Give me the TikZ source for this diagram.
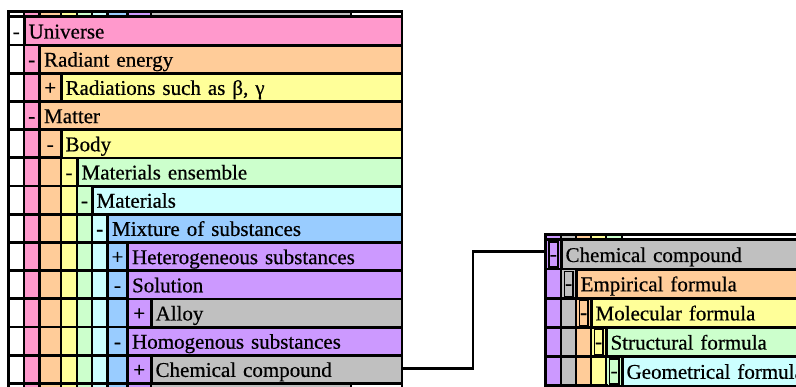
\documentclass[tikz,border=0pt]{standalone}
\usepackage{fontspec}
\setmainfont{Liberation Serif}[FakeBold=0.5]
\definecolor{tpink}{HTML}{FF99CC}
\definecolor{torange}{HTML}{FFCC99}
\definecolor{tyellow}{HTML}{FFFF99}
\definecolor{tgreen}{HTML}{CCFFCC}
\definecolor{tcyan}{HTML}{CCFFFF}
\definecolor{tblue}{HTML}{99CCFF}
\definecolor{tpurple}{HTML}{CC99FF}
\definecolor{tgray}{HTML}{C0C0C0}
% column colours of the left outline
\colorlet{lc0}{white}\colorlet{lc1}{tpink}\colorlet{lc2}{torange}
\colorlet{lc3}{tyellow}\colorlet{lc4}{tgreen}\colorlet{lc5}{tcyan}
\colorlet{lc6}{tblue}\colorlet{lc7}{tpurple}\colorlet{lc8}{tgray}
\colorlet{lc9}{white}
% column colours of the right outline
\colorlet{rc0}{tpurple}\colorlet{rc1}{tgray}\colorlet{rc2}{torange}
\colorlet{rc3}{tyellow}\colorlet{rc4}{tgreen}\colorlet{rc5}{tcyan}
\colorlet{hc0}{tpurple}\colorlet{hc1}{tgray}\colorlet{hc2}{torange}
\colorlet{hc3}{tyellow}\colorlet{hc4}{tgreen}\colorlet{hc5}{white}
\tikzset{
  cellfont/.style={font=\fontsize{21}{25}\selectfont, text=black},
  signtext/.style={cellfont, anchor=base, inner sep=0pt},
  lcell/.style={cellfont, anchor=north west, inner xsep=3pt, inner ysep=0pt,
    align=left, text height=20.1pt, text depth=5.3pt, minimum height=25.4pt},
  rcell/.style={cellfont, anchor=north west, inner xsep=3pt, inner ysep=0pt,
    align=left, text height=20.6pt, text depth=5.8pt, minimum height=26.4pt},
  colcell/.style={inner sep=0pt, anchor=north west, minimum height=26.4pt},
  signbox/.style={cellfont, draw=black, line width=1.3pt, inner sep=0pt,
    minimum height=25pt, text height=18.7pt, text depth=6.3pt},
  conn/.style={draw=black, line width=2.2pt},
}
% half the width of the grid lines
\def\hw{1.4}
\begin{document}
\begin{tikzpicture}[x=1pt,y=-1pt]
\useasboundingbox (0,0) rectangle (796,387);
\clip (0,0) rectangle (796,387);

% ---------- left outline ----------
\def\LX{{8.5,24,39.5,61,77,92,107.5,127.5,151,351,402}}
\fill[black] (8.5-\hw,11.8-\hw) rectangle (402+\hw,395);
% header and footer strips
\foreach \k in {0,...,9}{
  \pgfmathsetmacro\xa{\LX[\k]}
  \pgfmathsetmacro\xb{\LX[\k+1]}
  \path[fill=lc\k] (\xa+\hw,11.8+\hw) rectangle (\xb-\hw,16.8-\hw);
  \path[fill=lc\k] (\xa+\hw,383.4+\hw) rectangle (\xb-\hw,395);
}
\foreach \dep/\sg/\lbl/\nm [count=\ri from 0] in {
  0/-/Universe/universe,
  1/-/Radiant energy/radiant,
  2/+/{Radiations such as β, γ}/radiations,
  1/-/Matter/matter,
  2/-/Body/body,
  3/-/Materials ensemble/ensemble,
  4/-/Materials/materials,
  5/-/Mixture of substances/mixture,
  6/+/Heterogeneous substances/hetero,
  6/-/Solution/solution,
  7/+/Alloy/alloy,
  6/-/Homogenous substances/homo,
  7/+/Chemical compound/chem}{
  \pgfmathsetmacro\ytop{16.8+28.2*\ri}
  \pgfmathsetmacro\ybot{\ytop+28.2}
  % ancestor columns and the sign column
  \foreach \k in {0,...,\dep}{
    \pgfmathsetmacro\xa{\LX[\k]}
    \pgfmathsetmacro\xb{\LX[\k+1]}
    \path[fill=lc\k] (\xa+\hw,\ytop+\hw) rectangle (\xb-\hw,\ybot-\hw);
  }
  \pgfmathsetmacro\xsa{\LX[\dep]}
  \pgfmathsetmacro\xsb{\LX[\dep+1]}
  \pgfmathsetmacro\xs{0.5*\xsa+0.5*\xsb}
  \node[signtext] (ls\nm) at (\xs,\ytop+21.5) {\sg};
  % label cell
  \pgfmathtruncatemacro\dl{\dep+1}
  \pgfmathsetmacro\tw{402-\xsb-2*\hw-6}
  \node[lcell, fill=lc\dl, text width=\tw pt] (l\nm) at (\xsb+\hw,\ytop+\hw) {\lbl};
}

% ---------- right outline ----------
\def\RX{{545.5,561,576,591,606,622,1000}}
\fill[black] (545.5-\hw,234.3-\hw) rectangle (1000,395);
\foreach \k in {0,...,5}{
  \pgfmathsetmacro\xa{\RX[\k]}
  \pgfmathsetmacro\xb{\RX[\k+1]}
  \path[fill=hc\k] (\xa+\hw,234.3+\hw) rectangle (\xb-\hw,239.8-\hw);
}
\foreach \dep/\lbl/\nm [count=\ri from 0] in {
  0/Chemical compound/chem,
  1/Empirical formula/empirical,
  2/Molecular formula/molecular,
  3/Structural formula/structural,
  4/Geometrical formula/geometrical}{
  \pgfmathsetmacro\ytop{239.8+29.2*\ri}
  \pgfmathsetmacro\ybot{\ytop+29.2}
  \foreach \k in {0,...,\dep}{
    \pgfmathsetmacro\xa{\RX[\k]}
    \pgfmathsetmacro\xb{\RX[\k+1]}
    \path[fill=rc\k] (\xa+\hw,\ytop+\hw) rectangle (\xb-\hw,\ybot-\hw);
  }
  % sign column cell with its button
  \pgfmathsetmacro\xsa{\RX[\dep]}
  \pgfmathsetmacro\xsb{\RX[\dep+1]}
  \pgfmathsetmacro\cw{\xsb-\xsa-2*\hw}
  \pgfmathsetmacro\bw{\cw-3.5}
  \node[colcell, fill=rc\dep, minimum width=\cw pt] (rcol\nm) at (\xsa+\hw,\ytop+\hw) {};
  \node[signbox, fill=rc\dep, minimum width=\bw pt] (rsign\nm) at (rcol\nm.center) {-};
  % label cell
  \pgfmathtruncatemacro\dl{\dep+1}
  \pgfmathsetmacro\tw{1000-\xsb-2*\hw-6}
  \node[rcell, fill=rc\dl, text width=\tw pt] (r\nm) at (\xsb+\hw,\ytop+\hw) {\lbl};
}

% ---------- link between the two outlines ----------
\draw[conn] ([yshift=1pt]lchem.east) -- ++(71.6,0) |- ([yshift=3pt]rcolchem.west);
\end{tikzpicture}
\end{document}
